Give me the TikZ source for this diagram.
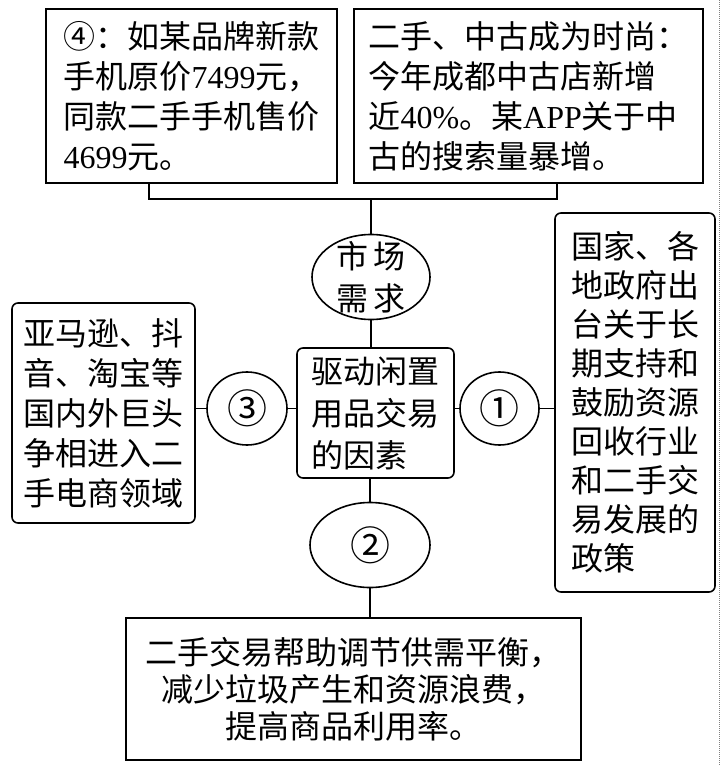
\documentclass[tikz,border=0pt]{standalone}
\usepackage{fontspec}
\setmainfont{Liberation Serif}
\newfontfamily\cjk{Noto Sans CJK SC}
\usetikzlibrary{shapes.geometric}
\newcommand\lat[1]{{\rmfamily #1}}

\begin{document}
\begin{tikzpicture}[x=1pt, y=-1pt, line width=1.6pt,
    every node/.style={font=\cjk\fontsize{32}{40}\selectfont, inner sep=0pt},
    sqbox/.style={draw, rectangle, align=left},
    rbox/.style={sqbox, rounded corners=6pt},
    oval/.style={draw, ellipse, align=center},
    numoval/.style={oval, font=\cjk\fontsize{40}{40}\selectfont}]
  \useasboundingbox (0,0) rectangle (721,765);
  % top row
  \node[sqbox, minimum width=291pt, minimum height=174pt] (price) at (191.5,96)
    {④：如某品牌新款\\手机原价\lat{7499}元，\\同款二手手机售价\\\lat{4699}元。};
  \node[sqbox, minimum width=349pt, minimum height=174pt] (trend) at (528.5,96)
    {二手、中古成为时尚：\\今年成都中古店新增\\近\lat{40\%}。某\lat{APP}关于中\\古的搜索量暴增。};
  % middle row
  \node[oval, minimum width=118pt, minimum height=85pt,
    label={[align=center, font=\cjk\fontsize{32}{42}\selectfont]center:市\hspace{6pt}场\\需\hspace{6pt}求}]
    (demand) at (371,277) {};
  \node[rbox, minimum width=157pt, minimum height=130pt,
    font=\cjk\fontsize{32}{42}\selectfont] (core) at (375.5,413) {驱动闲置\\用品交易\\的因素};
  \node[numoval, minimum width=80pt, minimum height=73pt] (c3) at (247,408.5) {③};
  \node[numoval, minimum width=79pt, minimum height=73pt] (c1) at (499.5,408.5) {①};
  \node[numoval, minimum width=120pt, minimum height=85pt] (c2) at (370,545) {②};
  \node[rbox, minimum width=183pt, minimum height=220pt] (giants) at (103.5,413)
    {亚马逊、抖\\音、淘宝等\\国内外巨头\\争相进入二\\手电商领域};
  \node[rbox, minimum width=160pt, minimum height=379pt,
    font=\cjk\fontsize{32}{39}\selectfont] (policy) at (635,402.5)
    {国家、各\\地政府出\\台关于长\\期支持和\\鼓励资源\\回收行业\\和二手交\\易发展的\\政策};
  % bottom
  \node[sqbox, align=center, minimum width=455pt, minimum height=142pt,
    font=\cjk\fontsize{32}{37}\selectfont] (effect) at (353.5,689)
    {二手交易帮助调节供需平衡，\\减少垃圾产生和资源浪费，\\提高商品利用率。};
  % connectors
  \coordinate (bl) at (149,199); \coordinate (br) at (557,199);
  \draw (price.south -| bl) |- (br) -- (trend.south -| br);
  \draw (demand.north) -- (demand.north |- bl);
  \draw (demand.south) -- (demand.south |- core.north);
  \draw (giants.east |- c3.west) -- (c3.west) (c3.east) -- (core.west |- c3.east);
  \draw (core.east |- c1.west) -- (c1.west) (c1.east) -- (policy.west |- c1.east);
  \draw (c2.north |- core.south) -- (c2.north);
  \draw (c2.south) -- (c2.south |- effect.north);
  % page edge
  \draw[gray, line width=1pt, densely dotted] (719,0) -- (719,765);
\end{tikzpicture}
\end{document}
